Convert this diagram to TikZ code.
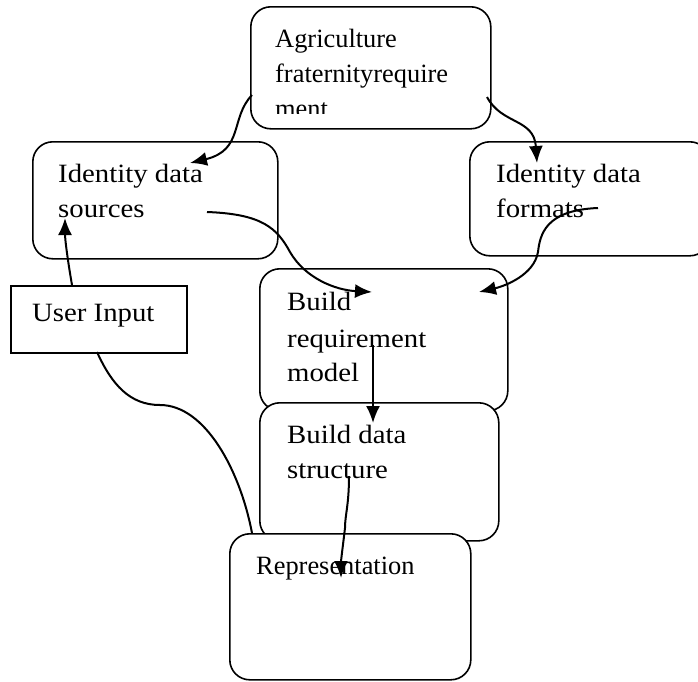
\documentclass[tikz,border=0pt]{standalone}
\usepackage{fontspec}
\setmainfont{Liberation Serif}
\newfontfamily\camfont[FakeStretch=1.09]{Liberation Serif}
\usetikzlibrary{arrows.meta}
\tikzset{
  rbox/.style={draw=black, line width=1.6pt, rounded corners=20pt, fill=white, anchor=north west, inner sep=0pt},
  sbox/.style={draw=black, line width=1.6pt, fill=white, anchor=north west, inner sep=0pt},
  camtext/.style={anchor=base west, inner sep=0pt, font=\camfont\fontsize{26.4}{35}\selectfont},
  timestext/.style={anchor=base west, inner sep=0pt, font=\fontsize{26.4}{35}\selectfont},
  conn/.style={line width=2pt, -{Latex[length=17pt,width=14pt]}},
  plain/.style={line width=2pt}
}
\begin{document}
\begin{tikzpicture}[x=1pt,y=-1pt]
\useasboundingbox (0,0) rectangle (698,681);
% boxes
\node[rbox, minimum width=240pt, minimum height=122pt] (agri) at (250,6) {};
\begin{scope}
\clip (252,8) rectangle (488,113);
\node[timestext] (agriA) at (275,47) {Agriculture};
\node[timestext] (agriB) at (275,82) {fraternityrequire};
\node[timestext] (agriC) at (275,117) {ment};
\end{scope}
\node[rbox, minimum width=245pt, minimum height=117pt] (ids) at (32,141) {};
\node[camtext] (idsA) at (58,182) {Identity data};
\node[camtext] (idsB) at (58,217) {sources};
\node[rbox, minimum width=240pt, minimum height=114pt] (idf) at (469,141) {};
\node[camtext] (idfA) at (496,182) {Identity data};
\node[camtext] (idfB) at (496,217) {formats};
\node[sbox, minimum width=176pt, minimum height=67pt] (ui) at (10,285) {};
\node[camtext] (uiA) at (32,321) {User Input};
\node[rbox, minimum width=248pt, minimum height=142pt] (brm) at (259,268) {};
\node[camtext] (brmA) at (287,310) {Build};
\node[camtext] (brmB) at (287,347) {requirement};
\node[camtext] (brmC) at (287,381) {model};
\node[rbox, minimum width=239pt, minimum height=138pt] (bds) at (259,402) {};
\node[camtext] (bdsA) at (287,443) {Build data};
\node[camtext] (bdsB) at (287,478) {structure};
\node[rbox, minimum width=241pt, minimum height=146pt] (rep) at (229,533) {};
\node[timestext] (repA) at (256,574) {Representation};
% connector end points
\coordinate (c1s) at (252,95);
\coordinate (c1e) at (190,163);
\coordinate (c2s) at (487,97);
\coordinate (c2e) at (537,163);
\coordinate (c3s) at (207,212);
\coordinate (c3e) at (372,292);
\coordinate (c4s) at (598,208);
\coordinate (c4e) at (479,292);
\coordinate (c5s) at (373,345);
\coordinate (c5e) at (373,423);
\coordinate (c6s) at (349,476);
\coordinate (c6e) at (341,578);
\coordinate (c7s) at (97,352);
\coordinate (c7e) at (252,533);
\coordinate (c8s) at (72,285);
\coordinate (c8e) at (65,218);
% connectors
\draw[conn] (c1s) .. controls (230,118) and (244,150) .. (c1e);
\draw[conn] (c2s) .. controls (502,125) and (534,118) .. (c2e);
\draw[conn] (c3s) .. controls (262,214) and (277,228) .. (290,252) .. controls (305,278) and (335,290) .. (c3e);
\draw[conn] (c4s) .. controls (545,210) and (540,235) .. (538,252) .. controls (534,275) and (505,286) .. (c4e);
\draw[conn] (c5s) -- (c5e);
\draw[conn] (c6s) .. controls (349,505) and (345,515) .. (345,528) .. controls (343,545) and (341,560) .. (c6e);
\draw[plain] (c7s) .. controls (112,385) and (130,405) .. (160,405) .. controls (205,405) and (240,470) .. (c7e);
\draw[conn] (c8s) .. controls (68,262) and (65,240) .. (c8e);
\end{tikzpicture}
\end{document}
